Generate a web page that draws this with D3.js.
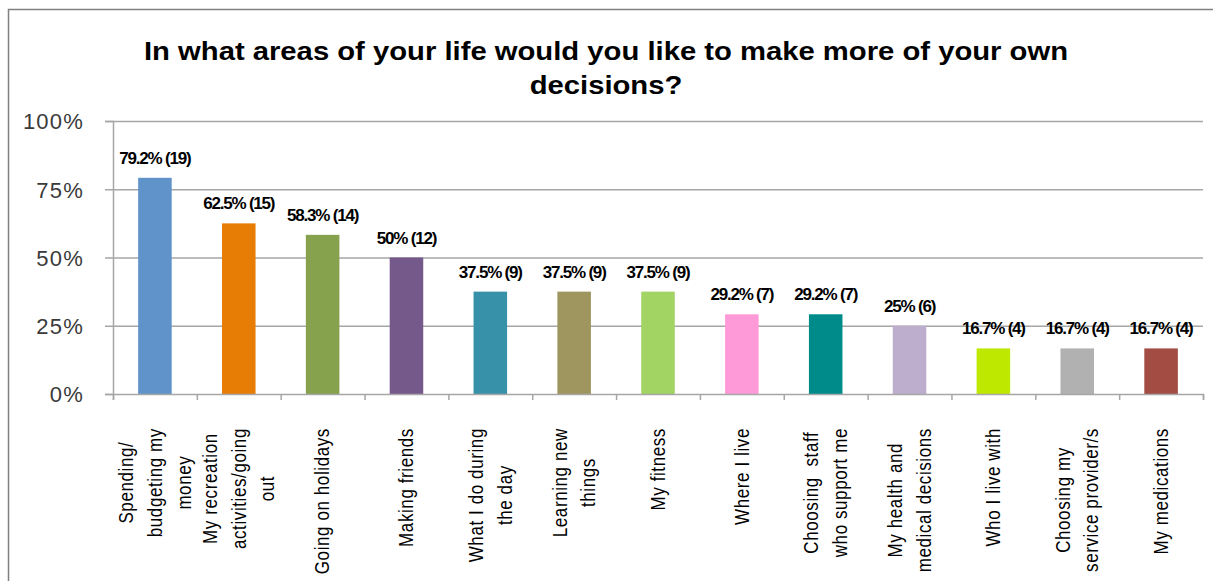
<!DOCTYPE html>
<html>
<head>
<meta charset="utf-8">
<script src="https://cdn.jsdelivr.net/npm/d3@7"></script>
<style>
  html, body { margin: 0; padding: 0; background: #ffffff; }
  svg { display: block; }
</style>
</head>
<body>
<svg id="chart" width="1213" height="581"></svg>
<script>
// Survey categories (line breaks as shown under the axis)
const categories = [
  ["Spending/", "budgeting my", "money"],
  ["My recreation", "activities/going", "out"],
  ["Going on holidays"],
  ["Making friends"],
  ["What I do during", "the day"],
  ["Learning new", "things"],
  ["My fitness"],
  ["Where I live"],
  ["Choosing  staff", "who support me"],
  ["My health and", "medical decisions"],
  ["Who I live with"],
  ["Choosing my", "service provider/s"],
  ["My medications"]
];
// Share of respondents (%) and number of respondents
const percents = [79.2, 62.5, 58.3, 50, 37.5, 37.5, 37.5, 29.2, 29.2, 25, 16.7, 16.7, 16.7];
const counts   = [19, 15, 14, 12, 9, 9, 9, 7, 7, 6, 4, 4, 4];
const barColors = ["#5f93c9", "#e87d06", "#86a24c", "#76598b", "#3691a9", "#9e955f",
                   "#a2d463", "#ff9ad9", "#008b8b", "#bdaecd", "#bfe800", "#b1b1b1", "#a24c43"];
const yTicks = [0, 25, 50, 75, 100];
const titleLines = ["In what areas of your life would you like to make more of your own", "decisions?"];

const svg = d3.select("#chart");
const plotLeft = 113, plotRight = 1203, plotTop = 121, plotBottom = 394;

// Outer chart frame
svg.append("rect")
  .attr("x", 8.5).attr("y", 9.5)
  .attr("width", 1220).attr("height", 600)
  .attr("fill", "#ffffff").attr("stroke", "#808080").attr("stroke-width", 1.5);

// Title (slightly widened lettering)
svg.append("g").attr("transform", "translate(606,0) scale(1.17,1)")
  .selectAll("text").data(titleLines).join("text")
  .attr("x", 0).attr("y", (d, i) => 60 + i * 34)
  .attr("text-anchor", "middle")
  .attr("font-family", "Liberation Sans, Arial, sans-serif")
  .attr("font-weight", "bold").attr("font-size", 25)
  .attr("fill", "#000")
  .text(d => d);

const x = d3.scaleBand()
  .domain(d3.range(categories.length))
  .range([plotLeft, plotRight])
  .paddingInner(0.6).paddingOuter(0.3);
const xEdges = d3.scaleLinear().domain([0, categories.length]).range([plotLeft, plotRight]);
const y = d3.scaleLinear().domain([0, 100]).range([plotBottom, plotTop]);

// Gridlines
const grid = svg.append("g").attr("transform", `translate(${plotLeft},0)`)
  .call(d3.axisLeft(y).tickValues(yTicks.slice(1)).tickSize(-(plotRight - plotLeft)).tickFormat(""));
grid.select(".domain").remove();
grid.selectAll("line").attr("stroke", "#a6a6a6").attr("stroke-width", 1.5);

// Y axis
const yAxis = svg.append("g").attr("transform", `translate(${plotLeft},0)`)
  .call(d3.axisLeft(y).tickValues(yTicks).tickSize(8).tickPadding(21)
    .tickFormat(d => d + "%"));
yAxis.select(".domain").attr("stroke", "#a6a6a6").attr("stroke-width", 1.5);
yAxis.selectAll("line").attr("stroke", "#a6a6a6").attr("stroke-width", 1.5);
yAxis.selectAll("text")
  .attr("font-family", "Liberation Sans, Arial, sans-serif")
  .attr("font-size", 22).attr("letter-spacing", 1.2)
  .attr("fill", "#3a3a3a").attr("dy", "0.36em");

// Bars
svg.append("g").selectAll("rect").data(percents).join("rect")
  .attr("x", (d, i) => x(i))
  .attr("y", d => y(d))
  .attr("width", x.bandwidth())
  .attr("height", d => y(0) - y(d))
  .attr("fill", (d, i) => barColors[i]);

// X axis with ticks at category boundaries
const xAxis = svg.append("g").attr("transform", `translate(0,${plotBottom})`)
  .call(d3.axisBottom(xEdges).ticks(categories.length).tickSize(6).tickFormat(""));
xAxis.select(".domain").attr("stroke", "#a6a6a6").attr("stroke-width", 1.5);
xAxis.selectAll("line").attr("stroke", "#a6a6a6").attr("stroke-width", 1.5);

// Value labels
svg.append("g").selectAll("text").data(percents).join("text")
  .attr("x", (d, i) => x(i) + x.bandwidth() / 2)
  .attr("y", d => y(d) - 14)
  .attr("text-anchor", "middle")
  .attr("font-family", "Liberation Sans, Arial, sans-serif")
  .attr("font-weight", "bold").attr("font-size", 17)
  .attr("letter-spacing", -1.2)
  .attr("fill", "#000")
  .text((d, i) => `${d}% (${counts[i]})`);

// Rotated category labels, top-aligned under the axis
const lineGap = 25;
const labels = svg.append("g").selectAll("g").data(categories).join("g");
labels.each(function (lines, i) {
  const g = d3.select(this);
  const t = g.append("text")
    .attr("font-family", "Liberation Sans, Arial, sans-serif")
    .attr("font-size", 17).attr("letter-spacing", 0.6)
    .attr("fill", "#000")
    .attr("text-anchor", "middle")
    .style("white-space", "pre");
  lines.forEach((ln, k) => {
    t.append("tspan").attr("x", 0)
      .attr("y", (k - (lines.length - 1) / 2) * lineGap)
      .attr("dy", "0.35em")
      .text(ln);
  });
  let maxW = 0;
  t.selectAll("tspan").each(function () { maxW = Math.max(maxW, this.getComputedTextLength()); });
  const cx = x(i) + x.bandwidth() / 2;
  const cy = 428 + maxW / 2;
  g.attr("transform", `translate(${cx},${cy}) scale(1.15,1) rotate(-90)`);
});
</script>
</body>
</html>
